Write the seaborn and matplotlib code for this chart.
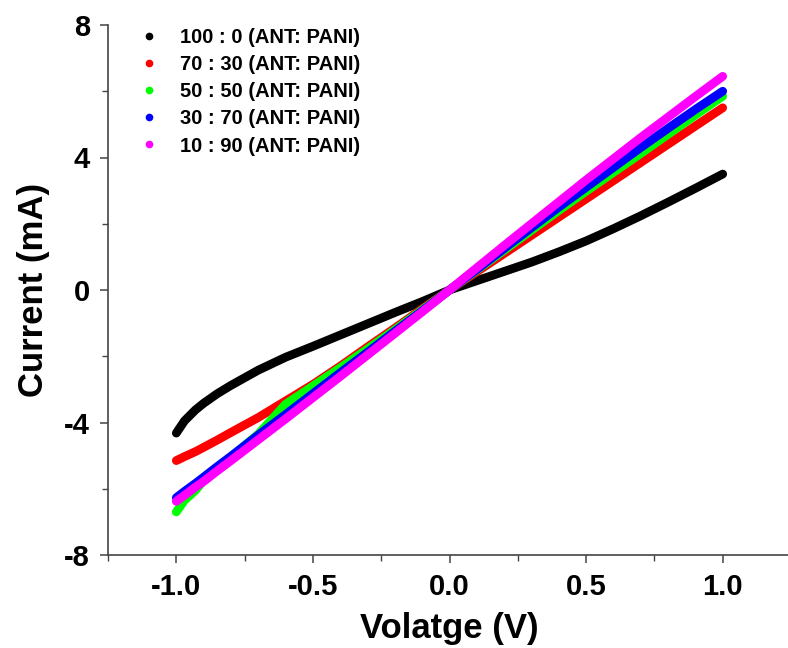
import matplotlib
matplotlib.use("Agg")
import matplotlib.pyplot as plt
from matplotlib.lines import Line2D
from matplotlib.ticker import MultipleLocator
import seaborn as sns
import pandas as pd

voltage = [-1.0, -0.97, -0.93, -0.9, -0.85, -0.8, -0.7, -0.6, -0.5, -0.4, -0.3, -0.2, -0.1, 0.0,
           0.1, 0.2, 0.3, 0.4, 0.5, 0.6, 0.7, 0.8, 0.9, 1.0]
ant100 = [-4.32, -3.95, -3.62, -3.42, -3.13, -2.88, -2.42, -2.03, -1.7, -1.36, -1.02, -0.68, -0.35, 0.0,
          0.28, 0.56, 0.84, 1.15, 1.48, 1.85, 2.24, 2.65, 3.07, 3.5]
ant70 = [-5.15, -5.03, -4.88, -4.75, -4.53, -4.3, -3.85, -3.35, -2.85, -2.3, -1.72, -1.15, -0.57, 0.0,
         0.55, 1.1, 1.65, 2.2, 2.75, 3.3, 3.85, 4.4, 4.95, 5.5]
ant50 = [-6.7, -6.35, -6.05, -5.75, -5.4, -5.05, -4.35, -3.45, -2.9, -2.35, -1.78, -1.2, -0.6, 0.0,
         0.6, 1.2, 1.8, 2.4, 2.98, 3.55, 4.12, 4.7, 5.28, 5.85]
ant30 = [-6.27, -6.08, -5.84, -5.65, -5.33, -5.02, -4.38, -3.76, -3.13, -2.5, -1.88, -1.25, -0.63, 0.0,
         0.62, 1.25, 1.88, 2.5, 3.1, 3.7, 4.3, 4.88, 5.45, 6.0]
ant10 = [-6.38, -6.2, -5.95, -5.78, -5.46, -5.15, -4.52, -3.89, -3.25, -2.61, -1.96, -1.31, -0.66, 0.0,
         0.67, 1.34, 2.0, 2.66, 3.32, 3.96, 4.6, 5.22, 5.84, 6.45]

labels = ["100 : 0 (ANT: PANI)", "70 : 30 (ANT: PANI)", "50 : 50 (ANT: PANI)",
          "30 : 70 (ANT: PANI)", "10 : 90 (ANT: PANI)"]
colors = ["#000000", "#ff0000", "#00ff00", "#0000ff", "#ff00ff"]
series = [ant100, ant70, ant50, ant30, ant10]

rows = []
for lab, vals in zip(labels, series):
    for v, c in zip(voltage, vals):
        rows.append({"Voltage": v, "Current": c, "Sample": lab})
df = pd.DataFrame(rows)

sns.set_style("ticks")
plt.rcParams["font.family"] = ["Liberation Sans", "DejaVu Sans"]
plt.rcParams["axes.unicode_minus"] = False
plt.rcParams["text.color"] = "black"
plt.rcParams["axes.labelcolor"] = "black"
plt.rcParams["xtick.color"] = "#444444"
plt.rcParams["ytick.color"] = "#444444"
plt.rcParams["xtick.labelcolor"] = "black"
plt.rcParams["ytick.labelcolor"] = "black"

fig = plt.figure(figsize=(7.88, 6.48), dpi=100)
ax = fig.add_axes([108 / 788, 93 / 648, 683 / 788, 530 / 648])

sns.lineplot(data=df, x="Voltage", y="Current", hue="Sample", hue_order=labels,
             palette=colors, sort=False, linewidth=6.3, legend=False, ax=ax,
             solid_capstyle="round", solid_joinstyle="round")

ax.set_xlim(-1.25, 1.25)
ax.set_ylim(-8, 8)
ax.xaxis.set_major_locator(MultipleLocator(0.5))
ax.xaxis.set_minor_locator(MultipleLocator(0.25))
ax.yaxis.set_major_locator(MultipleLocator(4))
ax.yaxis.set_minor_locator(MultipleLocator(2))

for s in ["top", "right"]:
    ax.spines[s].set_visible(False)
for s in ["left", "bottom"]:
    ax.spines[s].set_color("#444444")
    ax.spines[s].set_linewidth(1.2)

ax.tick_params(which="major", direction="out", length=6, width=1.1,
               labelsize=21, pad=7)
ax.tick_params(which="minor", direction="out", length=4, width=1.0)
for t in ax.get_xticklabels() + ax.get_yticklabels():
    t.set_fontweight("bold")

ax.set_xlabel("Volatge (V)", fontsize=25, fontweight="bold", labelpad=8)
ax.set_ylabel("Current (mA)", fontsize=25, fontweight="bold", labelpad=10)

handles = [Line2D([], [], linestyle="none", marker="o", markersize=4.5, color=c) for c in colors]
ax.legend(handles, labels, loc="upper left", bbox_to_anchor=(0.013, 1.028), frameon=False,
          prop={"weight": "bold", "size": 14.5}, handletextpad=0.85, labelspacing=0.4,
          handlelength=1.4)

fig.savefig("out.png", dpi=100)
